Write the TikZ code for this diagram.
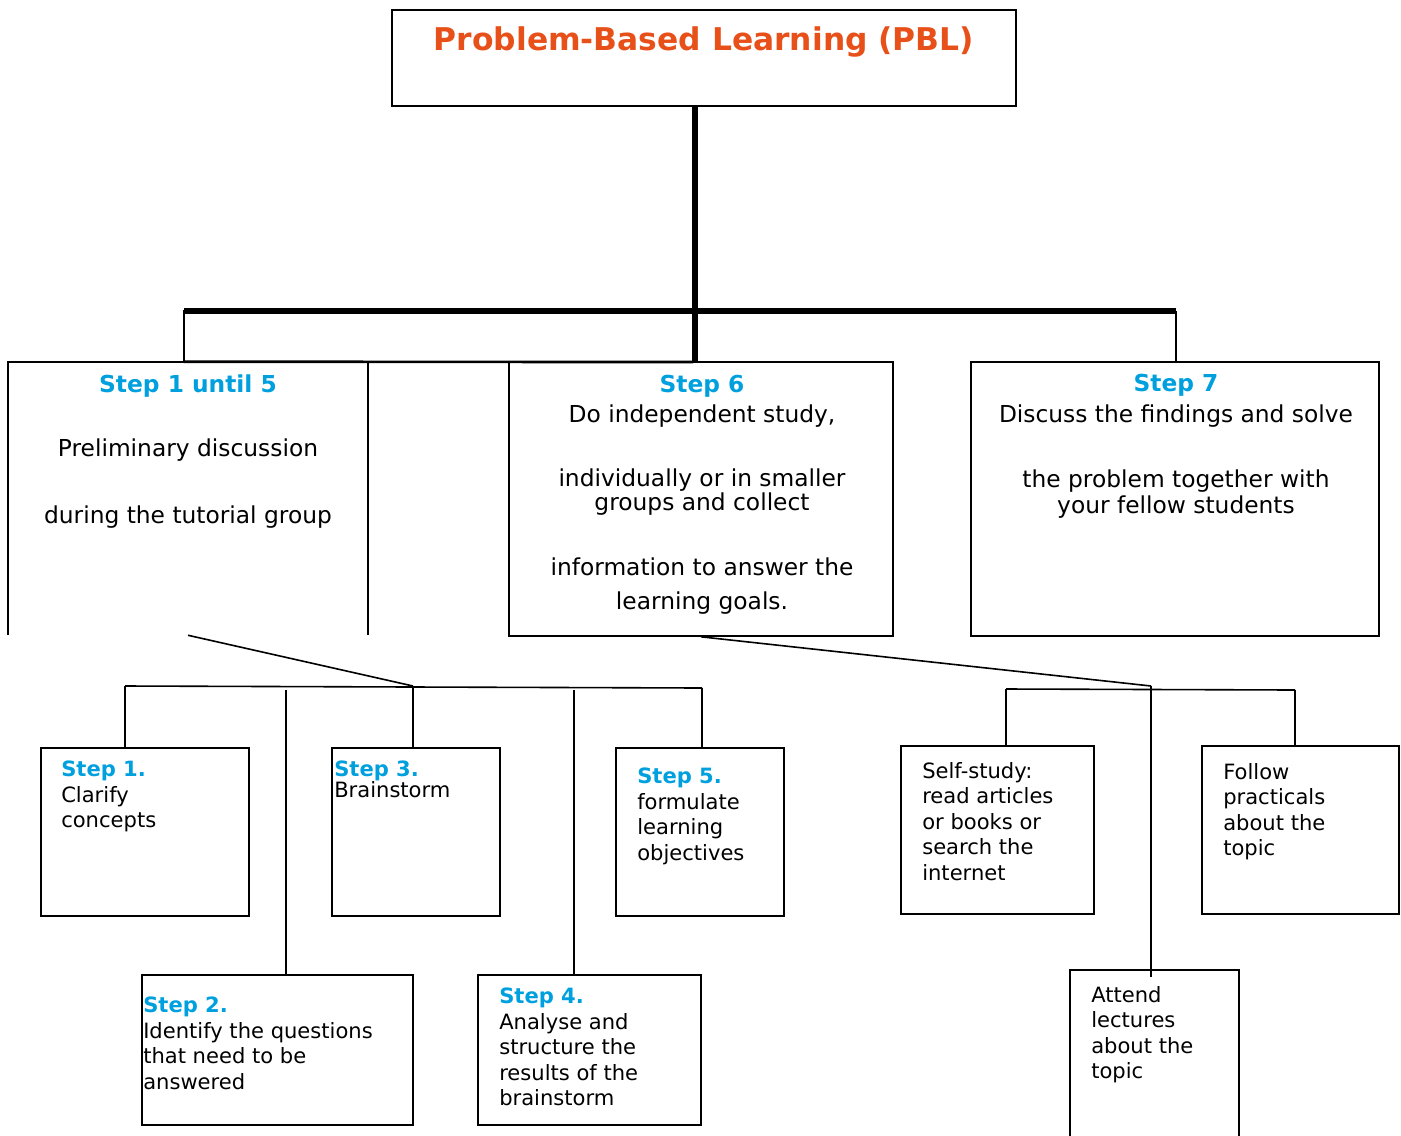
\documentclass[tikz,border=0pt]{standalone}
\usepackage{fontspec}
\setmainfont{DejaVu Sans}
\usetikzlibrary{fit}
\definecolor{pblorange}{RGB}{232,80,26}
\definecolor{stepblue}{RGB}{0,160,222}
\tikzset{
  box/.style={draw, line width=1.2pt, inner sep=0pt},
  frame/.style={inner sep=0pt},
  wire/.style={line width=1.2pt},
  trunk/.style={line width=4pt},
  bigtext/.style={font=\fontsize{17.5}{21}\selectfont, align=center, inner sep=0pt},
  smalltext/.style={font=\fontsize{15.8}{19.1}\selectfont, align=left, anchor=north west, inner sep=0pt},
}
\newcommand{\stepname}[1]{\textcolor{stepblue}{\textbf{#1}}}
\begin{document}
\begin{tikzpicture}[x=0.75pt,y=-0.75pt]
    \useasboundingbox (0,0) rectangle (1401,1135);

    % Title
    \node[box, fit={(392,10) (1016,106)}] (pbl) {};
    \node[font=\fontsize{23.5}{28}\selectfont\bfseries, text=pblorange] (title) at (704,42) {Problem-Based Learning (PBL)};

    % Upper boxes
    \node[frame, fit={(8,362) (368,635)}] (s15) {};
    \draw[wire] (s15.south west) -- (s15.north west) -- (s15.north east) -- (s15.south east);
    \node[box, fit={(509,362) (893,636)}] (s6) {};
    \node[box, fit={(971,362) (1379,636)}] (s7) {};

    \node[bigtext] (s15a) at (188,386) {\stepname{Step 1 until 5}};
    \node[bigtext] (s15b) at (188,450) {Preliminary discussion};
    \node[bigtext] (s15c) at (188,517) {during the tutorial group};

    \node[bigtext] (s6a) at (702,386) {\stepname{Step 6}};
    \node[bigtext] (s6b) at (702,416) {Do independent study,};
    \node[bigtext] (s6c) at (702,492) {individually or in smaller\\[-3pt]groups and collect};
    \node[bigtext] (s6d) at (702,586) {information to answer the\\[4.5pt]learning goals.};

    \node[bigtext] (s7a) at (1176,385) {\stepname{Step 7}};
    \node[bigtext] (s7b) at (1176,416) {Discuss the findings and solve};
    \node[bigtext] (s7c) at (1176,494) {the problem together with\\[-1.5pt]your fellow students};

    % Main branches
    \coordinate (fork) at (695,311);
    \coordinate (left) at (184,311);
    \coordinate (right) at (1176,311);
    \draw[wire] (left) rectangle (693,362);
    \draw[line width=2pt] (left |- s15.north) -- (693,362);
    \draw[wire] (right) -- (right |- s7.north);
    \draw[trunk] (pbl.south -| fork) -- (fork |- s6.north);
    \draw[trunk] (left) -- (right);

    % Lower boxes, steps 1 to 5
    \node[box, fit={(41,748) (249,916)}] (s1) {};
    \node[box, fit={(142,975) (413,1125)}] (s2) {};
    \node[box, fit={(332,748) (500,916)}] (s3) {};
    \node[box, fit={(478,975) (701,1125)}] (s4) {};
    \node[box, fit={(616,748) (784,916)}] (s5) {};

    \node[smalltext] (s1t) at (61,761) {\stepname{Step 1.}\\Clarify\\concepts};
    \node[smalltext] (s2t) at (143,997) {\stepname{Step 2.}\\Identify the questions\\that need to be\\answered};
    \node[smalltext] (s3t) at (334,761) {\stepname{Step 3.}\\[-4pt]Brainstorm};
    \node[smalltext] (s4t) at (499,988) {\stepname{Step 4.}\\Analyse and\\structure the\\results of the\\brainstorm};
    \node[smalltext] (s5t) at (637,768) {\stepname{Step 5.}\\formulate\\learning\\objectives};

    \coordinate (hubA) at (413,686);
    \coordinate (j1) at (125,686);
    \coordinate (j2) at (286,690);
    \coordinate (j4) at (574,690);
    \coordinate (j5) at (702,688);
    \draw[wire] (s15.south) -- (hubA);
    \draw[wire] (j1) -- (j5);
    \draw[wire] (j1) -- (j1 |- s1.north);
    \draw[wire] (j2) -- (j2 |- s2.north);
    \draw[wire] (hubA) -- (hubA |- s3.north);
    \draw[wire] (j4) -- (j4 |- s4.north);
    \draw[wire] (j5) -- (j5 |- s5.north);

    % Lower boxes, step 6
    \node[box, fit={(901,746) (1094,914)}] (self) {};
    \node[box, fit={(1070,970) (1239,1145)}] (attend) {};
    \node[box, fit={(1202,746) (1399,914)}] (follow) {};

    \node[smalltext] (selft) at (922,762) {Self-study:\\read articles\\or books or\\search the\\internet};
    \node[smalltext] (attendt) at (1091,986) {Attend\\lectures\\about the\\topic};
    \node[smalltext] (followt) at (1223,763) {Follow\\practicals\\about the\\topic};

    \coordinate (hubB) at (1151,686);
    \coordinate (k1) at (1006,689);
    \coordinate (k3) at (1295,690);
    \draw[wire] (s6.south) -- (hubB);
    \draw[wire] (k1) -- (k3);
    \draw[wire] (k1) -- (k1 |- self.north);
    \draw[wire] (hubB) -- ([yshift=-6pt]hubB |- attend.north);
    \draw[wire] (k3) -- (k3 |- follow.north);
\end{tikzpicture}
\end{document}
